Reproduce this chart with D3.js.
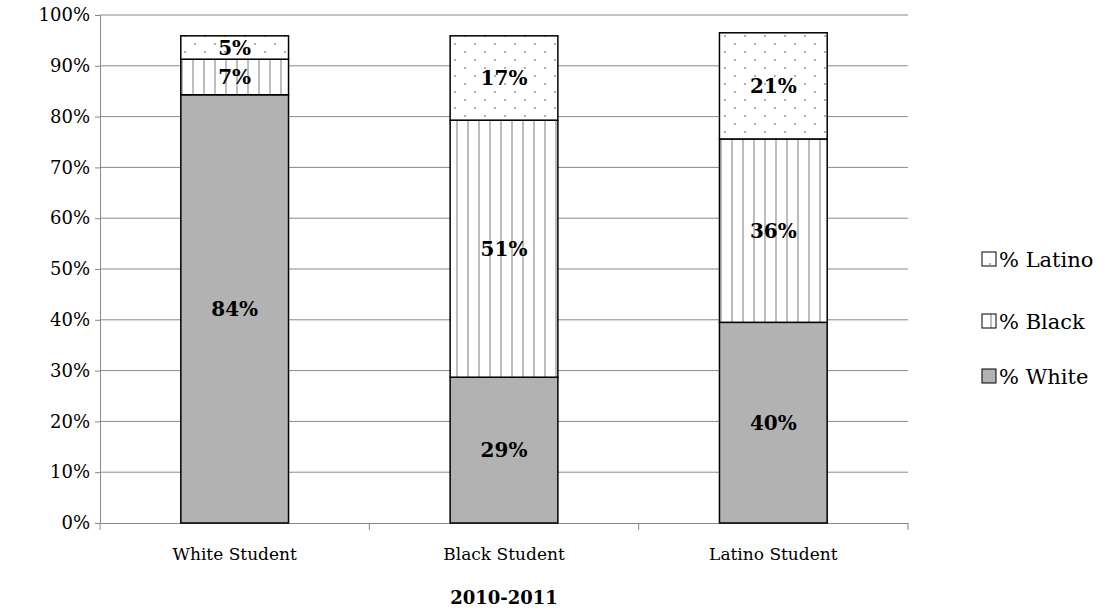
<!DOCTYPE html>
<html>
<head>
<meta charset="UTF-8">
<script src="https://d3js.org/d3.v7.min.js"></script>
<style>body{margin:0;background:#fff}</style>
</head>
<body>
<div id="chart"></div>
<script>
const categories = ["White Student", "Black Student", "Latino Student"];
const white  = [84.3, 28.7, 39.5];
const black  = [7.0, 50.6, 36.1];
const latino = [4.6, 16.6, 20.9];
const labels = {white: ["84%", "29%", "40%"], black: ["7%", "51%", "36%"], latino: ["5%", "17%", "21%"]};
const ticks = [0, 10, 20, 30, 40, 50, 60, 70, 80, 90, 100];

const W = 1108, H = 613;
const m = {left: 100, right: 200, top: 15, bottom: 90};
const svg = d3.select("#chart").append("svg").attr("width", W).attr("height", H);
const font = "'DejaVu Serif', serif";

const defs = svg.append("defs");
const stripe = defs.append("pattern").attr("id", "stripe").attr("patternUnits", "userSpaceOnUse")
  .attr("width", 11).attr("height", 10);
stripe.append("rect").attr("width", 11).attr("height", 10).attr("fill", "#fff");
stripe.append("rect").attr("x", 5).attr("width", 2).attr("height", 10).attr("fill", "#bdbdbd");
const dots = defs.append("pattern").attr("id", "dots").attr("patternUnits", "userSpaceOnUse")
  .attr("width", 20).attr("height", 16);
dots.append("rect").attr("width", 20).attr("height", 16).attr("fill", "#fff");
dots.append("rect").attr("x", 4).attr("y", 3).attr("width", 2).attr("height", 2).attr("fill", "#b0b0b0");
dots.append("rect").attr("x", 14).attr("y", 11).attr("width", 2).attr("height", 2).attr("fill", "#b0b0b0");

const x = d3.scaleBand().domain(categories).range([m.left, W - m.right]).paddingInner(0.6).paddingOuter(0.3);
const y = d3.scaleLinear().domain([0, 100]).range([H - m.bottom, m.top]);

// gridlines
svg.append("g").selectAll("line").data(ticks.slice(1)).join("line")
  .attr("x1", m.left).attr("x2", W - m.right).attr("y1", d => y(d)).attr("y2", d => y(d))
  .attr("stroke", "#888").attr("stroke-width", 1);

const yAxis = svg.append("g").attr("transform", `translate(${m.left},0)`)
  .call(d3.axisLeft(y).tickValues(ticks).tickFormat(d => d + "%").tickSize(5));
yAxis.selectAll("text").attr("font-family", font).attr("font-size", 18).attr("fill", "#000").attr("dx", -2);
yAxis.selectAll("line,path").attr("stroke", "#888");

const xAxis = svg.append("g").attr("transform", `translate(0,${y(0)})`)
  .call(d3.axisBottom(x).tickSize(0).tickPadding(25));
xAxis.selectAll("path").attr("stroke", "#888");
xAxis.selectAll("text").attr("font-family", font).attr("font-size", 17).attr("fill", "#000");
// category separators
const sep = [m.left, ...categories.slice(1).map(c => (x(c) - x.step() * x.paddingInner() / 2)), W - m.right];
svg.append("g").selectAll("line").data(sep).join("line")
  .attr("x1", d => d).attr("x2", d => d).attr("y1", y(0)).attr("y2", y(0) + 7).attr("stroke", "#888");

const series = [
  {key: "white", vals: white, fill: "#b2b2b2"},
  {key: "black", vals: black, fill: "url(#stripe)"},
  {key: "latino", vals: latino, fill: "url(#dots)"}
];
categories.forEach((c, i) => {
  let base = 0;
  series.forEach(s => {
    const v = s.vals[i];
    svg.append("rect").attr("x", x(c)).attr("width", x.bandwidth())
      .attr("y", y(base + v)).attr("height", y(base) - y(base + v))
      .attr("fill", s.fill).attr("stroke", "#000").attr("stroke-width", 1.5);
    svg.append("text").attr("x", x(c) + x.bandwidth() / 2).attr("y", y(base + v / 2))
      .attr("dy", "0.35em").attr("text-anchor", "middle").attr("font-family", font)
      .attr("font-weight", "bold").attr("font-size", 20).text(labels[s.key][i]);
    base += v;
  });
});

svg.append("text").attr("x", (m.left + W - m.right) / 2).attr("y", 604).attr("text-anchor", "middle")
  .attr("font-family", font).attr("font-weight", "bold").attr("font-size", 18).text("2010-2011");

const legend = [
  {name: "% Latino", fill: "url(#dots)", yv: 260},
  {name: "% Black", fill: "url(#stripe)", yv: 322},
  {name: "% White", fill: "#b2b2b2", yv: 377}
];
const lg = svg.append("g").selectAll("g").data(legend).join("g")
  .attr("transform", d => `translate(985,${d.yv})`);
lg.append("rect").attr("x", -3).attr("y", -8).attr("width", 14).attr("height", 14)
  .attr("fill", d => d.fill).attr("stroke", "#000");
lg.append("text").attr("x", 14).attr("y", 0).attr("dy", "0.35em").attr("font-family", font)
  .attr("font-size", 21).text(d => d.name);
</script>
</body>
</html>
